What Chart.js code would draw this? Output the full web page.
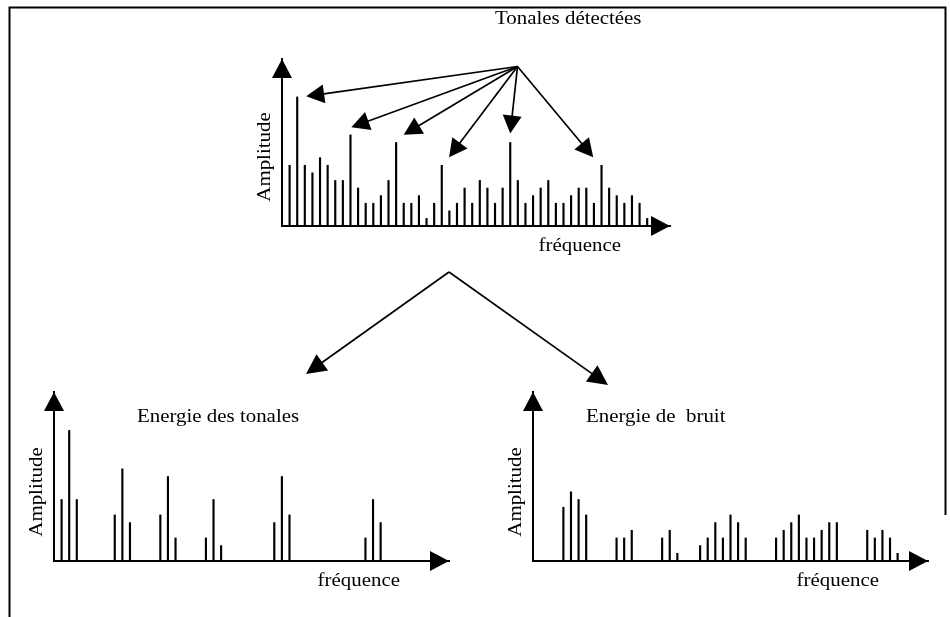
<!DOCTYPE html>
<html>
<head>
<meta charset="utf-8">
<script src="https://cdn.jsdelivr.net/npm/chart.js@4.4.1/dist/chart.umd.min.js"></script>
<style>
  html, body { margin: 0; padding: 0; background: #fff; }
  #wrap { position: relative; width: 950px; height: 617px; overflow: hidden; background: #fff; }
  canvas { position: absolute; left: 0; top: 0; }
</style>
</head>
<body>
<div id="wrap">
  <canvas id="top" width="950" height="617"></canvas>
  <canvas id="tonal" width="950" height="617"></canvas>
  <canvas id="noise" width="950" height="617"></canvas>
</div>
<script>
// ---------- data ----------
const detectedBins = [1,2,3,4,5,6,7,8,9,10,11,12,13,14,15,16,17,18,19,20,21,22,23,24,25,26,27,28,29,30,31,32,33,34,35,36,37,38,39,40,41,42,43,44,45,46,47,48];
const detectedAmplitude = [8,17,8,7,9,8,6,6,12,5,3,3,4,6,11,3,3,4,1,3,8,2,3,5,3,6,5,3,5,11,6,3,4,5,6,3,3,4,5,5,3,8,5,4,3,4,3,1];
const tonalPeakBins = [2,9,15,21,30,42];

const tonalBins = [1,2,3,8,9,10,14,15,16,20,21,22,29,30,31,41,42,43];
const tonalEnergy = [8,17,8,6,12,5,6,11,3,3,8,2,5,11,6,3,8,5];

const noiseBins = [4,5,6,7,11,12,13,17,18,19,22,23,24,25,26,27,28,32,33,34,35,36,37,38,39,40,44,45,46,47,48];
const noiseEnergy = [7,9,8,6,3,3,4,3,4,1,2,3,5,3,6,5,3,3,4,5,6,3,3,4,5,5,4,3,4,3,1];

// ---------- texts ----------
const topTitle = 'Tonales détectées';
const tonalTitle = 'Energie des tonales';
const noiseTitle = 'Energie de  bruit';
const yLabel = 'Amplitude';
const xLabel = 'fréquence';

// ---------- helpers ----------
const FONT = '19px "Liberation Serif", "Times New Roman", serif';
const STRETCH = 1.1;

function text(ctx, s, x, y, align, rot) {
  ctx.save();
  ctx.translate(x, y);
  if (rot) ctx.rotate(rot);
  ctx.scale(STRETCH, 1);
  ctx.font = FONT;
  ctx.fillStyle = '#000';
  ctx.textAlign = align;
  ctx.textBaseline = 'alphabetic';
  ctx.fillText(s, 0, 0);
  ctx.restore();
}

function arrowHead(ctx, tx, ty, ux, uy, len, half) {
  const bx = tx - ux * len, by = ty - uy * len;
  const px = -uy, py = ux;
  ctx.beginPath();
  ctx.moveTo(tx, ty);
  ctx.lineTo(bx + px * half, by + py * half);
  ctx.lineTo(bx - px * half, by - py * half);
  ctx.closePath();
  ctx.fill();
}

function arrow(ctx, x0, y0, x1, y1, len, half, lw) {
  const dx = x1 - x0, dy = y1 - y0;
  const d = Math.hypot(dx, dy);
  const ux = dx / d, uy = dy / d;
  ctx.lineWidth = lw;
  ctx.beginPath();
  ctx.moveTo(x0, y0);
  ctx.lineTo(x1 - ux * (len - 2), y1 - uy * (len - 2));
  ctx.stroke();
  arrowHead(ctx, x1, y1, ux, uy, len, half);
}

const stemDecor = {
  id: 'stemDecor',
  afterDraw(chart, args, opts) {
    const ctx = chart.ctx;
    const a = chart.chartArea;
    ctx.save();
    ctx.fillStyle = '#000';
    ctx.strokeStyle = '#000';
    arrowHead(ctx, a.left, a.top, 0, -1, 19, 10);
    arrowHead(ctx, a.right, a.bottom, 1, 0, 19, 10);
    text(ctx, yLabel, a.left - 12, a.bottom - 69, 'center', -Math.PI / 2);
    text(ctx, xLabel, a.right - 49, a.bottom + 25, 'right');
    if (opts.title) text(ctx, opts.title, opts.titleX, opts.titleY, 'left');

    if (opts.detections) {
      const xs = chart.scales.x, ys = chart.scales.y;
      const src = opts.source;
      opts.peaks.forEach((bin, i) => {
        const idx = detectedBins.indexOf(bin);
        const px = xs.getPixelForValue(bin);
        const py = ys.getPixelForValue(detectedAmplitude[idx]);
        const off = opts.tipOffsets[i];
        arrow(ctx, src[0], src[1], px + off[0], py + off[1], 18, 9.5, 1.7);
      });
      ctx.lineWidth = 2;
      ctx.beginPath();
      ctx.moveTo(9.5, 617);
      ctx.lineTo(9.5, 7.5);
      ctx.lineTo(945.5, 7.5);
      ctx.lineTo(945.5, 515);
      ctx.stroke();
      const apex = opts.apex;
      arrow(ctx, apex[0], apex[1], opts.leftTip[0], opts.leftTip[1], 20, 10, 1.7);
      arrow(ctx, apex[0], apex[1], opts.rightTip[0], opts.rightTip[1], 20, 10, 1.7);
    }
    ctx.restore();
  }
};

function axisOpts(max) {
  return {
    type: 'linear',
    min: 0,
    max: max,
    offset: false,
    grid: { display: false, drawTicks: false, offset: false },
    ticks: { display: false },
    border: { display: true, color: '#000', width: 2 }
  };
}

function makeChart(id, bins, values, pad, xMax, decor) {
  return new Chart(document.getElementById(id), {
    type: 'bar',
    data: {
      datasets: [{
        data: bins.map((b, i) => ({ x: b, y: values[i] })),
        backgroundColor: '#000',
        borderWidth: 0,
        barThickness: 1.5
      }]
    },
    options: {
      responsive: false,
      animation: false,
      devicePixelRatio: 1,
      layout: { padding: pad },
      scales: { x: axisOpts(xMax), y: axisOpts(22) },
      plugins: { legend: { display: false }, tooltip: { enabled: false }, stemDecor: decor }
    },
    plugins: [stemDecor]
  });
}

makeChart('top', detectedBins, detectedAmplitude,
  { left: 282, right: 280, top: 59, bottom: 391 }, 51,
  {
    title: topTitle, titleX: 495, titleY: 24,
    detections: true, peaks: tonalPeakBins, source: [517.5, 66.5],
    tipOffsets: [[9, -0.6], [0.9, -7.7], [7.6, -7.7], [7.3, -8], [0, -9], [-8.3, -8]],
    apex: [449, 272], leftTip: [306, 374], rightTip: [608, 385]
  });

makeChart('tonal', tonalBins, tonalEnergy,
  { left: 54, right: 501, top: 392, bottom: 56 }, 52,
  { title: tonalTitle, titleX: 137, titleY: 422 });

makeChart('noise', noiseBins, noiseEnergy,
  { left: 533, right: 22, top: 392, bottom: 56 }, 52,
  { title: noiseTitle, titleX: 586, titleY: 422 });
</script>
</body>
</html>
